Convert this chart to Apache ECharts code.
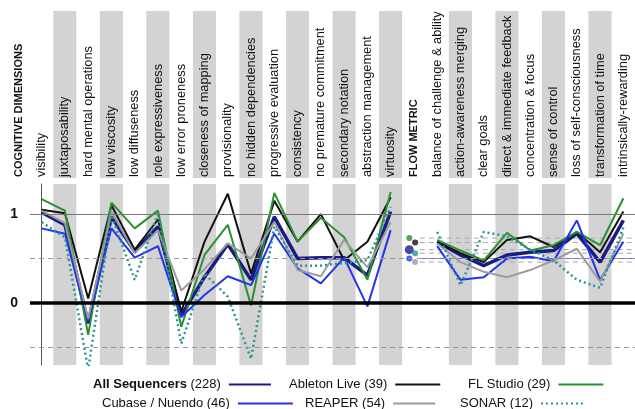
<!DOCTYPE html>
<html><head><meta charset="utf-8">
<script src="https://cdn.jsdelivr.net/npm/echarts@6/dist/echarts.min.js"></script>
<style>html,body{margin:0;padding:0;background:#fff}#c{width:635px;height:409px}</style>
</head><body><div id="c"></div>
<script>
const categories = ['visibility','juxtaposability','hard mental operations','low viscosity','low diffuseness','role expressiveness','low error proneness','closeness of mapping','provisionality','no hidden dependencies','progressive evaluation','consistency','no premature commitment','secondary notation','abstraction management','virtuosity','FLOW METRIC','balance of challenge & ability','action-awareness merging','clear goals','direct & immediate feedback','concentration & focus','sense of control','loss of self-consciousness','transformation of time','intrinsically-rewarding'];
const shadedColumns = [1,3,5,7,9,11,13,15,18,20,22,24];
const yTickLabels = [0, 1];

const allSequencers = [1.02,0.88,-0.23,0.97,0.58,0.86,-0.14,0.29,0.66,0.26,0.97,0.50,0.51,0.51,0.31,1.03,null,0.69,0.54,0.42,0.54,0.57,0.59,0.78,0.46,0.93];
const abletonLive   = [1.05,1.01,0.05,1.10,0.60,0.94,-0.10,0.69,1.23,0.33,1.15,0.69,1.00,0.48,0.69,1.19,null,0.69,0.56,0.46,0.71,0.75,0.63,0.80,0.57,1.03];
const flStudio      = [1.17,1.04,-0.36,1.13,0.84,1.04,-0.27,0.54,0.88,-0.03,1.24,0.69,0.96,0.74,0.26,1.25,null,0.71,0.59,0.48,0.79,0.59,0.65,0.80,0.65,1.18];
const cubaseNuendo  = [0.84,0.78,-0.20,0.84,0.51,0.64,-0.16,0.09,0.30,0.20,0.78,0.39,0.22,0.51,-0.04,0.82,null,0.64,0.26,0.29,0.50,0.52,0.47,0.93,0.26,0.69];
const reaper        = [1.04,0.90,-0.18,1.03,0.56,0.82,0.14,0.38,0.67,0.50,0.91,0.37,0.30,0.71,0.40,0.91,null,0.67,0.46,0.35,0.29,0.37,0.48,0.61,0.24,0.78];
const sonar         = [0.91,0.74,-0.75,0.99,0.26,1.01,-0.46,0.33,0.07,-0.63,0.86,0.42,0.42,0.45,0.48,1.08,null,0.80,0.20,0.80,0.75,0.60,0.48,0.26,0.17,0.85];

const flowMeanAll = 0.60, flowMeanAbleton = 0.68, flowMeanFL = 0.73;
const flowMeanCubase = 0.50, flowMeanReaper = 0.46, flowMeanSonar = 0.56;

const FONT = '"Liberation Sans", Arial, Helvetica, sans-serif';
const S = [
  {name:'All Sequencers (228)', data:allSequencers, color:'#1b1b85', width:3.5, type:'solid', mean:flowMeanAll, dx:-0.2, dot:9},
  {name:'Ableton Live (39)', data:abletonLive, color:'#111111', width:2, type:'solid', mean:flowMeanAbleton, dx:0.05, dot:6},
  {name:'FL Studio (29)', data:flStudio, color:'#2a9030', width:2, type:'solid', mean:flowMeanFL, dx:-0.2, dot:6},
  {name:'Cubase / Nuendo (46)', data:cubaseNuendo, color:'#2233ee', width:2, type:'solid', mean:flowMeanCubase, dx:-0.2, dot:6},
  {name:'REAPER (54)', data:reaper, color:'#9c9c9c', width:2, type:'solid', mean:flowMeanReaper, dx:0.05, dot:6},
  {name:'SONAR (12)', data:sonar, color:'#2a9494', width:2.5, type:[2,3], mean:flowMeanSonar, dx:0.05, dot:6}
];

const bandColors = categories.map((c,i)=> shadedColumns.indexOf(i)>=0 ? '#d3d3d3' : '#ffffff');

const series = [];
series.push({
  type:'line', xAxisIndex:1, yAxisIndex:1, data:[], z:1, silent:true,
  markLine:{silent:true, symbol:'none', label:{show:false},
    data:[
      {yAxis:1, lineStyle:{color:'#777', width:1, type:'solid'}},
      {yAxis:0.5, lineStyle:{color:'#999', width:1, type:[5,4]}},
      {yAxis:-0.5, lineStyle:{color:'#999', width:1, type:[5,4]}},
      {yAxis:0, lineStyle:{color:'#000', width:3.5, type:'solid'}}
    ]}
});
S.forEach(s=>{
  series.push({
    name:s.name, type:'line', xAxisIndex:1, yAxisIndex:1, data:s.data,
    symbol:'none', connectNulls:false, z:3,
    lineStyle:{color:s.color, width:s.width, type:s.type},
    itemStyle:{color:s.color}
  });
});
S.forEach(s=>{
  const isCubase = s.name.indexOf('Cubase')===0;
  series.push({
    type:'line', xAxisIndex:2, yAxisIndex:1, symbol:'none', silent:true, z:2,
    data:[[16.25, s.mean],[25.6, s.mean]],
    lineStyle: isCubase ? {color:'#6a6af5', width:1, type:'solid'} : {color:'#a8a8a8', width:1, type:[5,4]}
  });
});
series.push({
  type:'scatter', xAxisIndex:2, yAxisIndex:1, silent:true, z:4,
  data: S.map(s=>({value:[16+s.dx, s.mean], symbolSize:s.dot, itemStyle:{color:s.color}}))
});

function mkLegend(name, left, top, w){
  return {data:[name], left:left, top:top, itemWidth:w, itemHeight:12, align:'right', padding:0, itemGap:0,
    itemStyle:{opacity:0},
    textStyle:{fontSize:13, color:'#111', fontFamily:FONT, padding:[0,3,0,0], rich:{b:{fontWeight:'bold', fontSize:13, color:'#111', fontFamily:FONT}}},
    formatter: function(n){ if(n.indexOf('All Sequencers')===0) return '{b|All Sequencers} (228)'; return n; }
  };
}

const option = {
  animation:false,
  backgroundColor:'#fff',
  textStyle:{fontFamily:FONT},
  grid:[
    {left:30, width:608, top:11, height:167},
    {left:30, width:608, top:184, height:181}
  ],
  xAxis:[
    {type:'category', gridIndex:0, data:categories, boundaryGap:true,
      axisLine:{show:false}, axisTick:{show:false}, axisLabel:{show:false}, splitLine:{show:false},
      splitArea:{show:true, interval:0, areaStyle:{color:bandColors}}},
    {type:'category', gridIndex:1, data:categories, boundaryGap:true, position:'top',
      axisLine:{show:false}, axisTick:{show:false}, splitLine:{show:false},
      splitArea:{show:true, interval:0, areaStyle:{color:bandColors}},
      axisLabel:{show:true, interval:0, rotate:90, margin:7, fontSize:12.8, color:'#111', fontFamily:FONT,
        formatter:function(v,i){ return v==='FLOW METRIC' ? '{b|'+v+'}' : v; },
        rich:{b:{fontWeight:'bold', fontSize:11, color:'#111', fontFamily:FONT}}}},
    {type:'value', gridIndex:1, min:-0.5, max:25.5, show:false}
  ],
  yAxis:[
    {type:'value', gridIndex:0, show:false, min:0, max:1},
    {type:'value', gridIndex:1, min:-0.7, max:1.34,
      axisLine:{show:true, lineStyle:{color:'#555', width:1}}, axisTick:{show:false},
      splitLine:{show:false},
      axisLabel:{show:true, customValues:yTickLabels, fontSize:14, fontWeight:'bold', color:'#111', margin:12, fontFamily:FONT}}
  ],
  legend:[
    mkLegend(S[0].name, 93, 378, 42),
    mkLegend(S[1].name, 289, 378, 45),
    mkLegend(S[2].name, 468, 378, 45),
    mkLegend(S[3].name, 102, 397, 55),
    mkLegend(S[4].name, 305, 397, 42),
    mkLegend(S[5].name, 460, 397, 45)
  ],
  graphic:[
    {type:'text', x:19, y:177, rotation:Math.PI/2, style:{text:'COGNITIVE DIMENSIONS', align:'left', verticalAlign:'middle', font:'bold 11px '+FONT, fill:'#111'}}
  ],
  series:series
};
const chart = echarts.init(document.getElementById('c'), null, {renderer:'canvas'});
chart.setOption(option);
</script>
</body></html>
